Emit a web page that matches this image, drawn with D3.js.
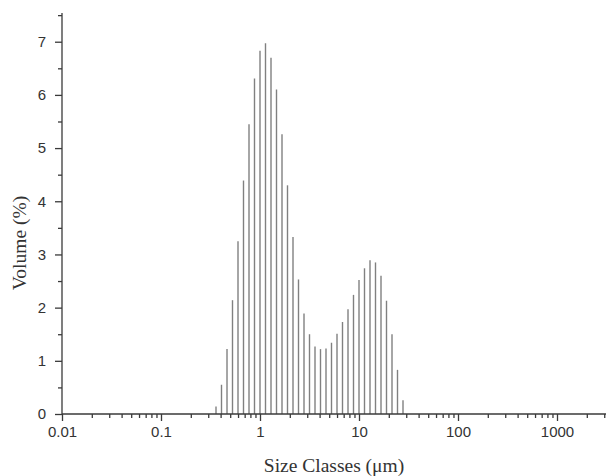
<!DOCTYPE html>
<meta charset="utf-8">
<script src="https://d3js.org/d3.v7.min.js"></script>
<style>
  body { margin: 0; background: #fff; }
</style>
<body>
<div id="my_dataviz"></div>
<script>

// size classes (um) and volume (%)
var sizes = [0.3594, 0.4084, 0.4642, 0.5275, 0.5995, 0.6813, 0.7743, 0.8799,
             1.0, 1.1365, 1.2915, 1.4678, 1.6681, 1.8957, 2.1544, 2.4484, 2.7826,
             3.1623, 3.5938, 4.0842, 4.6416, 5.2750, 5.9948, 6.8129, 7.7426, 8.7992,
             10.0, 11.365, 12.915, 14.678, 16.681, 18.957, 21.544, 24.484, 27.826];
var volumes = [0.14, 0.55, 1.22, 2.14, 3.25, 4.39, 5.45, 6.31,
               6.83, 6.97, 6.70, 6.10, 5.26, 4.30, 3.33, 2.53, 1.89,
               1.50, 1.27, 1.22, 1.23, 1.34, 1.51, 1.73, 1.97, 2.24,
               2.52, 2.74, 2.89, 2.85, 2.60, 2.13, 1.50, 0.83, 0.26];

var xTicks = [0.01, 0.1, 1, 10, 100, 1000];
var xTickLabels = ["0.01", "0.1", "1", "10", "100", "1000"];
var xMinorTicks = [0.02, 0.03, 0.04, 0.05, 0.06, 0.07, 0.08, 0.09,
                   0.2, 0.3, 0.4, 0.5, 0.6, 0.7, 0.8, 0.9,
                   2, 3, 4, 5, 6, 7, 8, 9,
                   20, 30, 40, 50, 60, 70, 80, 90,
                   200, 300, 400, 500, 600, 700, 800, 900,
                   2000, 3000];
var yTicks = [0, 1, 2, 3, 4, 5, 6, 7];
var yMinorTicks = [0.5, 1.5, 2.5, 3.5, 4.5, 5.5, 6.5, 7.5];

var width = 606, height = 476;

var svg = d3.select("#my_dataviz")
  .append("svg")
    .attr("width", width)
    .attr("height", height);

var x = d3.scaleLog()
  .domain([0.01, 3162])
  .range([62, 606.5]);

var y = d3.scaleLinear()
  .domain([0, 7.54])
  .range([414, 13]);

// bars (thin vertical lines)
svg.append("g")
  .selectAll("line")
  .data(sizes)
  .enter()
  .append("line")
    .attr("x1", function(d) { return x(d); })
    .attr("x2", function(d) { return x(d); })
    .attr("y1", y(0))
    .attr("y2", function(d, i) { return y(volumes[i]); })
    .style("stroke", "#808080")
    .style("stroke-width", 1.4);

var axisColor = "#3a3a3a";

// X axis
var xAxis = svg.append("g")
  .attr("transform", "translate(0," + y(0) + ")")
  .call(d3.axisBottom(x).tickValues(xTicks).tickSize(7).tickPadding(5)
    .tickFormat(function(d, i) { return xTickLabels[i]; }));
svg.append("g")
  .attr("transform", "translate(0," + y(0) + ")")
  .call(d3.axisBottom(x).tickValues(xMinorTicks).tickSize(4).tickFormat(""))
  .select(".domain").remove();

// Y axis
var yAxis = svg.append("g")
  .attr("transform", "translate(" + x(0.01) + ",0)")
  .call(d3.axisLeft(y).tickValues(yTicks).tickSize(7).tickPadding(9).tickFormat(d3.format("d")));
svg.append("g")
  .attr("transform", "translate(" + x(0.01) + ",0)")
  .call(d3.axisLeft(y).tickValues(yMinorTicks).tickSize(4).tickFormat(""))
  .select(".domain").remove();

svg.selectAll(".domain, .tick line")
  .style("stroke", axisColor)
  .style("stroke-width", 1.3);
svg.selectAll(".domain").attr("d", null);
xAxis.select(".domain")
  .attr("d", "M" + x(0.01) + ",0H" + width);
yAxis.select(".domain")
  .attr("d", "M0," + y(0) + "V" + y(7.54));

svg.selectAll(".tick text")
  .style("font-family", "'Liberation Sans', Arial, sans-serif")
  .style("font-size", "15px")
  .style("fill", "#333");

// axis titles
svg.append("text")
  .attr("x", 334)
  .attr("y", 472)
  .attr("text-anchor", "middle")
  .style("font-family", "'Liberation Serif', 'Times New Roman', serif")
  .style("font-size", "19.5px")
  .style("fill", "#333")
  .text("Size Classes (\u03bcm)");

svg.append("text")
  .attr("transform", "translate(26,243) rotate(-90)")
  .attr("text-anchor", "middle")
  .style("font-family", "'Liberation Serif', 'Times New Roman', serif")
  .style("font-size", "19.5px")
  .style("fill", "#333")
  .text("Volume (%)");

</script>
</body>
